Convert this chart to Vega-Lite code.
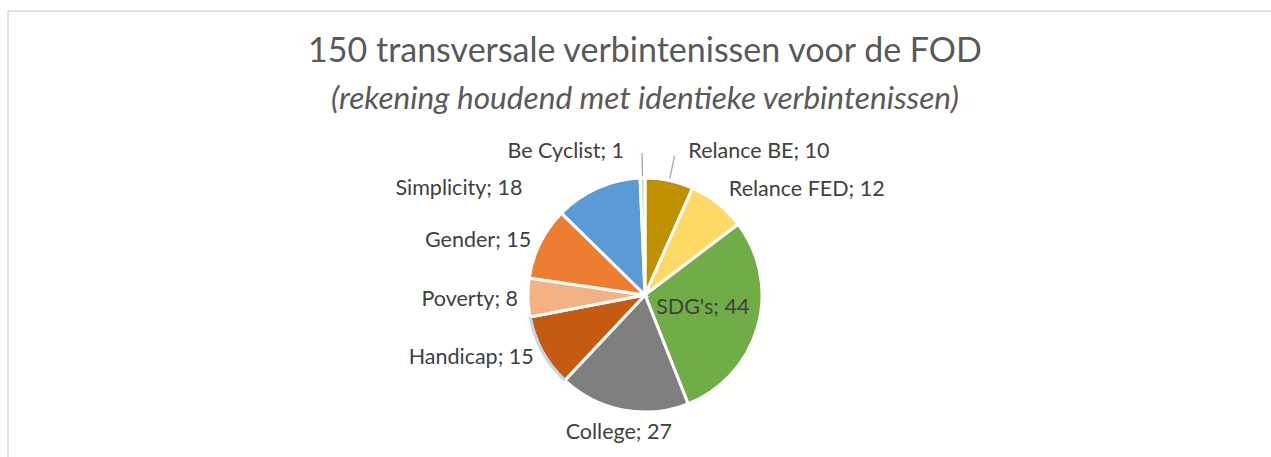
{
  "$schema": "https://vega.github.io/schema/vega-lite/v6.json",
  "width": 1274,
  "height": 568,
  "autosize": {"type": "none"},
  "padding": {"left": 8, "top": 11, "right": 0, "bottom": 0},
  "background": "#ffffff",
  "view": {"stroke": "#d9d9d9", "strokeWidth": 1.5, "fill": "#ffffff"},
  "title": {
    "text": "150 transversale verbintenissen voor de FOD",
    "subtitle": "(rekening houdend met identieke verbintenissen)",
    "anchor": "middle",
    "frame": "group",
    "offset": -105,
    "font": "Lato",
    "fontSize": 34,
    "fontWeight": "normal",
    "color": "#595959",
    "subtitleFont": "Lato",
    "subtitleFontSize": 31.6,
    "subtitleFontStyle": "italic",
    "subtitleColor": "#595959",
    "subtitlePadding": 15
  },
  "config": {"view": {"stroke": "#d9d9d9", "strokeWidth": 1.5}},
  "data": {
    "values": [
      {"cat": "Relance BE", "value": 10, "o": 1, "label": "Relance BE; 10"},
      {"cat": "Relance FED", "value": 12, "o": 2, "label": "Relance FED; 12"},
      {"cat": "SDG's", "value": 44, "o": 3, "label": "SDG's; 44"},
      {"cat": "College", "value": 27, "o": 4, "label": "College; 27"},
      {"cat": "Handicap", "value": 15, "o": 5, "label": "Handicap; 15"},
      {"cat": "Poverty", "value": 8, "o": 6, "label": "Poverty; 8"},
      {"cat": "Gender", "value": 15, "o": 7, "label": "Gender; 15"},
      {"cat": "Simplicity", "value": 18, "o": 8, "label": "Simplicity; 18"},
      {"cat": "Be Cyclist", "value": 1, "o": 9, "label": "Be Cyclist; 1"}
    ]
  },
  "encoding": {
    "theta": {"field": "value", "type": "quantitative", "stack": true},
    "order": {"field": "o", "type": "quantitative"}
  },
  "layer": [
    {
      "mark": {"type": "arc", "outerRadius": 117, "stroke": "#ffffff", "strokeWidth": 3},
      "encoding": {
        "color": {
          "field": "cat",
          "type": "nominal",
          "legend": null,
          "scale": {
            "domain": ["Relance BE", "Relance FED", "SDG's", "College", "Handicap", "Poverty", "Gender", "Simplicity", "Be Cyclist"],
            "range": ["#BF9000", "#FFD966", "#70AD47", "#7F7F7F", "#C55A11", "#F4B183", "#ED7D31", "#5B9BD5", "#C5E0B4"]
          }
        }
      }
    },
    {
      "mark": {"type": "arc", "innerRadius": 115.5, "outerRadius": 118.5, "fill": "#BDD7EE"},
      "encoding": {
        "opacity": {"condition": {"test": "datum.cat === 'Handicap'", "value": 1}, "value": 0}
      }
    },
    {
      "mark": {"type": "arc", "innerRadius": 119, "outerRadius": 142, "padAngle": 2, "fill": null, "fillOpacity": 0, "stroke": "#A6A6A6", "strokeWidth": 1.3},
      "encoding": {
        "strokeOpacity": {"condition": {"test": "datum.cat === 'Be Cyclist' || datum.cat === 'Relance BE'", "value": 1}, "value": 0}
      }
    },
    {
      "mark": {"type": "text", "radius": 127, "align": "right", "baseline": "middle", "dy": 2, "font": "Lato", "fontSize": 21.5, "color": "#404040"},
      "encoding": {
        "text": {"field": "label"},
        "opacity": {"condition": {"test": "datum.cat === 'Handicap' || datum.cat === 'Poverty' || datum.cat === 'Gender'", "value": 1}, "value": 0}
      }
    },
    {
      "mark": {"type": "text", "radius": 135, "align": "left", "baseline": "middle", "dy": 1, "font": "Lato", "fontSize": 21.5, "color": "#404040"},
      "encoding": {
        "text": {"field": "label"},
        "opacity": {"condition": {"test": "datum.cat === 'Relance FED'", "value": 1}, "value": 0}
      }
    },
    {
      "mark": {"type": "text", "radius": 140, "align": "center", "baseline": "middle", "font": "Lato", "fontSize": 21.5, "color": "#404040"},
      "encoding": {
        "text": {"field": "label"},
        "opacity": {"condition": {"test": "datum.cat === 'College'", "value": 1}, "value": 0}
      }
    },
    {
      "mark": {"type": "text", "radius": 60, "align": "center", "baseline": "middle", "dy": -3, "font": "Lato", "fontSize": 21.5, "color": "#404040"},
      "encoding": {
        "text": {"field": "label"},
        "opacity": {"condition": {"test": "datum.cat === \"SDG's\"", "value": 1}, "value": 0}
      }
    },
    {
      "mark": {"type": "text", "radius": 143, "align": "right", "baseline": "middle", "dx": -18, "font": "Lato", "fontSize": 21.5, "color": "#404040"},
      "encoding": {
        "text": {"field": "label"},
        "opacity": {"condition": {"test": "datum.cat === 'Be Cyclist'", "value": 1}, "value": 0}
      }
    },
    {
      "mark": {"type": "text", "radius": 146, "align": "left", "baseline": "middle", "dx": 13, "font": "Lato", "fontSize": 21.5, "color": "#404040"},
      "encoding": {
        "text": {"field": "label"},
        "opacity": {"condition": {"test": "datum.cat === 'Relance BE'", "value": 1}, "value": 0}
      }
    },
    {
      "mark": {"type": "text", "radius": 117, "align": "right", "baseline": "middle", "dx": -75, "dy": 1, "font": "Lato", "fontSize": 21.5, "color": "#404040"},
      "encoding": {
        "text": {"field": "label"},
        "opacity": {"condition": {"test": "datum.cat === 'Simplicity'", "value": 1}, "value": 0}
      }
    }
  ]
}
